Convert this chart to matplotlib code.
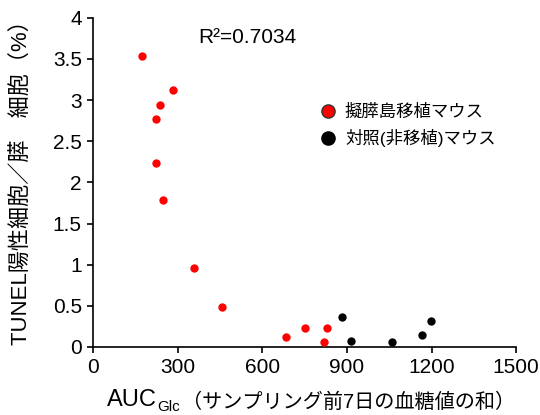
import matplotlib
matplotlib.use("Agg")
import matplotlib.pyplot as plt
from matplotlib.lines import Line2D

plt.rcParams['font.family'] = ['Liberation Sans', 'Noto Sans CJK JP']

# transplanted mice (red) and control mice (black)
tx_auc = [175, 284, 239, 224, 224, 247, 359, 458, 683, 751, 831, 820]
tx_tunel = [3.54, 3.12, 2.94, 2.77, 2.23, 1.79, 0.96, 0.48, 0.12, 0.235, 0.235, 0.06]
ctrl_auc = [883, 916, 1061, 1166, 1199]
ctrl_tunel = [0.365, 0.07, 0.057, 0.14, 0.31]

xticks = [0, 300, 600, 900, 1200, 1500]
yticks = [0, 0.5, 1, 1.5, 2, 2.5, 3, 3.5, 4]
yticklabels = ["0", "0.5", "1", "1.5", "2", "2.5", "3", "3.5", "4"]
r2_text = "R²=0.7034"
legend_labels = ["擬膵島移植マウス", "対照(非移植)マウス"]

fig = plt.figure(figsize=(5.4, 4.15), dpi=100)
ax = fig.add_axes([0.172, 0.164, 0.784, 0.793])

ax.scatter(tx_auc, tx_tunel, s=36, color="#ff0000", linewidths=0, zorder=3)
ax.scatter(ctrl_auc, ctrl_tunel, s=36, color="#000000", linewidths=0, zorder=3)

ax.set_xlim(0, 1500)
ax.set_ylim(0, 4)
ax.set_xticks(xticks)
ax.set_yticks(yticks)
ax.set_yticklabels(yticklabels)
ax.tick_params(labelsize=15, length=4, width=1.2, direction="out", pad=4)
for side in ["top", "right"]:
    ax.spines[side].set_visible(False)
for side in ["left", "bottom"]:
    ax.spines[side].set_linewidth(1.2)

ax.set_ylabel("TUNEL陽性細胞／膵　細胞（%）", fontsize=15.9)
ax.yaxis.set_label_coords(-0.142, 0.517)

# x label with subscript, built from chained texts
t1 = fig.text(107 / 540, 9 / 415, "AUC", fontsize=17, ha="left", va="baseline")
t2 = ax.annotate("Glc", xy=(1, 0), xycoords=t1, xytext=(0.5, -2), textcoords="offset points",
                 fontsize=11, ha="left", va="bottom")
ax.annotate("（サンプリング前7日の血糖値の和）", xy=(1, 0), xycoords=t2, xytext=(1, 1),
            textcoords="offset points", fontsize=14.5, ha="left", va="bottom")

ax.text(0.365, 0.939, r2_text, transform=ax.transAxes, fontsize=15, ha="center", va="center")

handles = [
    Line2D([], [], marker="o", linestyle="none", markersize=9.5, markerfacecolor="#ff0000",
           markeredgecolor="#333333", markeredgewidth=1),
    Line2D([], [], marker="o", linestyle="none", markersize=9.5, markerfacecolor="#000000",
           markeredgecolor="#000000"),
]
ax.legend(handles, legend_labels, loc="upper left", bbox_to_anchor=(0.497, 0.76), frameon=False,
          fontsize=12.5, handletextpad=0.0, labelspacing=0.5, borderaxespad=0)

fig.savefig("out.png", dpi=100)
